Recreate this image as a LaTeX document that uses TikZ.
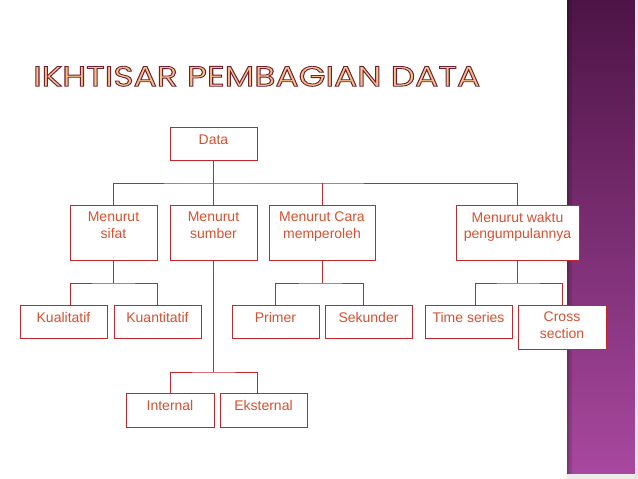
\documentclass[tikz,border=0pt]{standalone}
\usepackage{fontspec}
\usepackage{graphicx}
\setmainfont{Liberation Sans}
\newfontfamily\titlefont{Poppins}
\usetikzlibrary{calc}
\definecolor{linered}{HTML}{C4262C}
\definecolor{txtred}{HTML}{D9502F}
\definecolor{titlefill}{HTML}{F7C08A}
\definecolor{purpletop}{HTML}{4E1446}
\definecolor{purplebot}{HTML}{A8489F}
\newcommand\titletext{\resizebox{447pt}{20pt}{\special{pdf:literal direct 2 Tr 0.3 w 0.43 0.13 0.19 RG}\titlefont IKHTISAR PEMBAGIAN DATA\special{pdf:literal direct 0 Tr}}}
\begin{document}
\begin{tikzpicture}[x=1pt,y=-1pt,
  box/.style={draw=linered, fill=white, line width=1pt, inner sep=0pt, outer sep=0pt},
  lbl/.style={inner sep=0pt, align=center, font=\fontsize{14}{16.5}\selectfont, text=txtred},
  conn/.style={draw=linered, line width=1pt}]
\useasboundingbox (0,0) rectangle (638,479);
\fill[white] (0,0) rectangle (638,479);
% purple side bar
\shade[top color=purpletop, bottom color=purplebot] (567,0) rectangle (635,474);
\fill[black, opacity=0.25] (567,0) rectangle (569,474);
\fill[black, opacity=0.12] (569,0) rectangle (572,474);
\fill[gray!22] (635,0) rectangle (638,479);
\fill[gray!15] (567,474) rectangle (635,479);
% title
\node[inner sep=0pt, anchor=north west, text=titlefill] (title) at (33,66) {\titletext};
% connectors
\coordinate (b0) at (213.5,183);
\coordinate (b1) at (113.5,283);
\coordinate (b2) at (322,283);
\coordinate (b3) at (517.5,283);
\coordinate (b4) at (213.5,372);
% boxes
\node[box, minimum width=87pt, minimum height=33pt, label={[lbl,anchor=north,yshift=-8pt]north:Data}] (data) at (213.5,143.5) {};
\node[box, minimum width=87pt, minimum height=55pt, label={[lbl,anchor=north,yshift=-7pt]north:{Menurut\\sifat}}] (sifat) at (113.5,232.5) {};
\node[box, minimum width=87pt, minimum height=55pt, label={[lbl,anchor=north,yshift=-7pt]north:{Menurut\\sumber}}] (sumber) at (213.5,232.5) {};
\node[box, minimum width=106pt, minimum height=55pt, label={[lbl,anchor=north,yshift=-7pt]north:{Menurut Cara\\memperoleh}}] (cara) at (322,232.5) {};
\node[box, minimum width=123pt, minimum height=55pt, label={[lbl,anchor=north,yshift=-7pt]north:{Menurut waktu\\pengumpulannya}}] (waktu) at (517.5,232.5) {};
\node[box, minimum width=87pt, minimum height=33pt, label={[lbl,anchor=north,yshift=-7pt]north:Kualitatif}] (kual) at (63.5,321.5) {};
\node[box, minimum width=87pt, minimum height=33pt, label={[lbl,anchor=north,yshift=-7pt]north:Kuantitatif}] (kuan) at (157.5,321.5) {};
\node[box, minimum width=87pt, minimum height=33pt, label={[lbl,anchor=north,yshift=-7pt]north:Primer}] (primer) at (275.5,321.5) {};
\node[box, minimum width=87pt, minimum height=33pt, label={[lbl,anchor=north,yshift=-7pt]north:Sekunder}] (sekunder) at (368.5,321.5) {};
\node[box, minimum width=87pt, minimum height=33pt, label={[lbl,anchor=north,yshift=-7pt]north:Time series}] (time) at (468.5,321.5) {};
\node[box, minimum width=88pt, minimum height=44pt, label={[lbl,anchor=north,yshift=-7pt]north:{Cross\\section}}] (cross) at (562,327) {};
\node[box, minimum width=88pt, minimum height=34pt, label={[lbl,anchor=north,yshift=-7pt]north:Internal}] (internal) at (170,410) {};
\node[box, minimum width=87pt, minimum height=34pt, label={[lbl,anchor=north,yshift=-7pt]north:Eksternal}] (eksternal) at (263.5,410) {};
% connector paths
\draw[conn] (data.south) -- (b0);
\draw[conn] (sifat.north) |- (b0) -| (waktu.north);
\draw[conn] (sumber.north) -- (b0);
\draw[conn] (cara.north) -- (cara.north |- b0);
\draw[conn] (sifat.south) -- (b1);
\draw[conn] (sifat.south west |- kual.north) |- (b1) -| (kuan.north);
\draw[conn] (cara.south) -- (b2);
\draw[conn] (primer.north) |- (b2) -| ($(sekunder.north)+(-5.5,0)$);
\draw[conn] (waktu.south) -- (b3);
\draw[conn] ($(time.north)+(6.5,0)$) |- (b3) -| (cross.north);
\draw[conn] (sumber.south) -- (b4);
\draw[conn] (internal.north) |- (b4) -| ($(eksternal.north)+(-6.5,0)$);
\end{tikzpicture}
\end{document}
